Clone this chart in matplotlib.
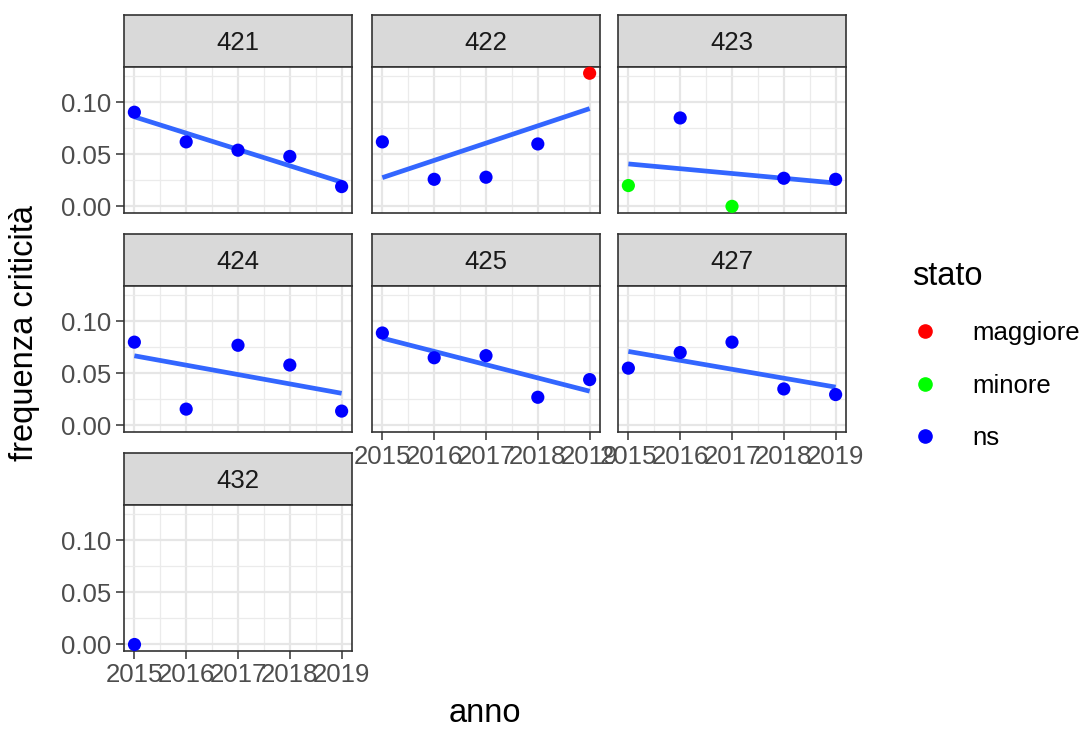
import numpy as np
import matplotlib
matplotlib.use('Agg')
import matplotlib.pyplot as plt
from matplotlib.lines import Line2D

plt.rcParams['font.family'] = ['Liberation Sans', 'DejaVu Sans']

# dati
anni = [2015, 2016, 2017, 2018, 2019]
reparti = ['421', '422', '423', '424', '425', '427', '432']

f421 = [0.0905, 0.062, 0.054, 0.048, 0.019]
f422 = [0.062, 0.026, 0.028, 0.060, 0.128]
f423 = [0.020, 0.085, 0.000, 0.027, 0.026]
f424 = [0.080, 0.0156, 0.077, 0.058, 0.0137]
f425 = [0.0888, 0.065, 0.067, 0.027, 0.044]
f427 = [0.055, 0.070, 0.080, 0.035, 0.0296]
f432 = [0.0]

s421 = ['ns', 'ns', 'ns', 'ns', 'ns']
s422 = ['ns', 'ns', 'ns', 'ns', 'maggiore']
s423 = ['minore', 'ns', 'minore', 'ns', 'ns']
s424 = ['ns', 'ns', 'ns', 'ns', 'ns']
s425 = ['ns', 'ns', 'ns', 'ns', 'ns']
s427 = ['ns', 'ns', 'ns', 'ns', 'ns']
s432 = ['ns']

freqs = [f421, f422, f423, f424, f425, f427, f432]
stati = [s421, s422, s423, s424, s425, s427, s432]

stato_lev = ['maggiore', 'minore', 'ns']
colori = {'maggiore': '#FF0000', 'minore': '#00FF00', 'ns': '#0000FF'}

W, H = 1084, 729
fig = plt.figure(figsize=(W / 100, H / 100), dpi=100)

col_x = [124, 372, 618]
row_y = [15, 234, 453]
pw, sh, ph = 228, 52, 146

def px_axes(x, y, w, h):
    return fig.add_axes([x / W, 1 - (y + h) / H, w / W, h / H])

grey20 = '#333333'
tick_fs = 18.5

for i, rep in enumerate(reparti):
    r, c = divmod(i, 3)
    x0, y0 = col_x[c], row_y[r]

    # strip
    sax = px_axes(x0, y0, pw, sh)
    sax.set_facecolor('#D9D9D9')
    sax.set_xticks([]); sax.set_yticks([])
    for sp in sax.spines.values():
        sp.set_color(grey20); sp.set_linewidth(1.2)
    sax.text(0.5, 0.47, rep, ha='center', va='center', fontsize=tick_fs,
             color='#1A1A1A', transform=sax.transAxes)

    ax = px_axes(x0, y0 + sh, pw, ph)
    ax.set_xlim(2014.8, 2019.2)
    ax.set_ylim(-0.0064, 0.134)
    ax.set_xticks(anni)
    ax.set_xticks([2015.5, 2016.5, 2017.5, 2018.5], minor=True)
    ax.set_yticks([0.0, 0.05, 0.10])
    ax.set_yticks([0.025, 0.075, 0.125], minor=True)
    ax.grid(which='major', color='#E6E6E6', lw=1.6)
    ax.grid(which='minor', color='#EBEBEB', lw=0.9)
    ax.set_axisbelow(True)
    for sp in ax.spines.values():
        sp.set_color(grey20); sp.set_linewidth(1.2)
    ax.tick_params(which='major', direction='out', length=6, width=1.1,
                   color=grey20, labelsize=tick_fs, labelcolor='#4D4D4D', pad=3)
    ax.tick_params(which='minor', length=0)

    if c == 0:
        ax.set_yticklabels(['0.00', '0.05', '0.10'])
    else:
        ax.tick_params(axis='y', which='major', length=0, labelleft=False)
    if i in (4, 5, 6):
        ax.set_xticklabels([str(a) for a in anni])
    else:
        ax.tick_params(axis='x', which='major', length=0, labelbottom=False)

    y = freqs[i]
    xs = anni[:len(y)]
    if len(y) > 1:
        b, a = np.polyfit(xs, y, 1)
        xx = np.array([xs[0], xs[-1]])
        ax.plot(xx, a + b * xx, color='#3366FF', lw=3.4, solid_capstyle='butt', zorder=2)
    cols = [colori[s] for s in stati[i]]
    ax.scatter(xs, y, s=90, c=cols, zorder=3, clip_on=False, linewidths=0)

fig.text(25 / W, 1 - 333 / H, 'frequenza criticità', rotation=90, ha='center',
         va='center', fontsize=23.5, color='black')
fig.text(485 / W, 1 - 714 / H, 'anno', ha='center', va='center',
         fontsize=23.5, color='black')

handles = [Line2D([], [], marker='o', ls='', color=colori[s], markersize=9.5)
           for s in stato_lev]
leg = fig.legend(handles, stato_lev, title='stato', loc='upper left',
                 bbox_to_anchor=(889 / W, 1 - 238 / H), frameon=False,
                 fontsize=tick_fs, title_fontsize=23.5, alignment='left',
                 handlelength=1.0, handletextpad=1.35, labelspacing=1.12)

fig.savefig('out.png', dpi=100)
